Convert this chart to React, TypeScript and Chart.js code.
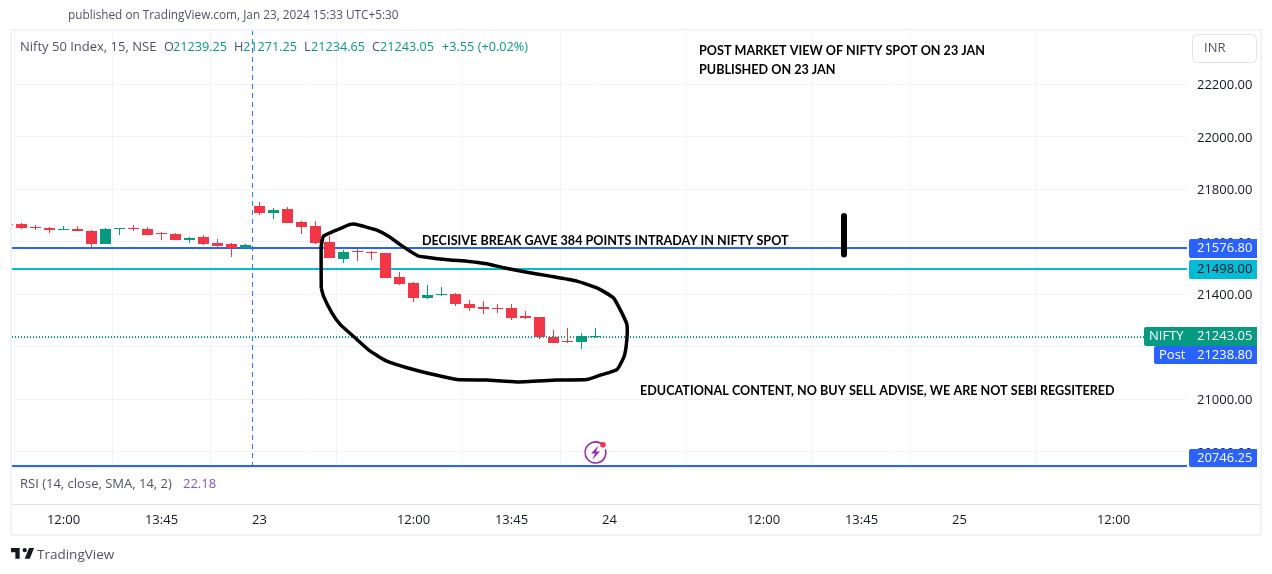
import React, { useEffect, useRef } from "react";
import { Chart, registerables } from "chart.js";

Chart.register(...registerables);

const opens = [21668.5, 21670, 21657, 21653, 21646, 21650, 21642, 21592, 21649, 21653, 21649, 21634, 21630, 21608, 21619, 21596, 21592, 21577, 21737, 21710, 21726, 21676, 21661, 21600, 21535, 21566, 21562, 21558, 21467, 21444, 21387, 21398, 21402, 21364, 21352, 21348, 21348, 21318, 21314, 21238, 21223, 21219, 21239.25];
const highs = [21669, 21674, 21666, 21657, 21661, 21661, 21646, 21653, 21653, 21665, 21657, 21638, 21634, 21619, 21627, 21611, 21596, 21592, 21752, 21729, 21733, 21680, 21680, 21623, 21569, 21573, 21566, 21558, 21486, 21448, 21436, 21428, 21406, 21379, 21375, 21364, 21364, 21337, 21314, 21265, 21272, 21253, 21271.25];
const lows = [21664, 21649, 21646, 21635, 21646, 21642, 21581, 21592, 21626, 21642, 21627, 21608, 21608, 21596, 21588, 21581, 21543, 21577, 21703, 21688, 21672, 21630, 21592, 21539, 21520, 21528, 21531, 21463, 21436, 21371, 21383, 21394, 21356, 21337, 21326, 21329, 21303, 21307, 21230, 21215, 21215, 21192, 21234.65];
const closes = [21665, 21653, 21653, 21646, 21650, 21642, 21592, 21650, 21653, 21649, 21627, 21630, 21608, 21615, 21592, 21585, 21577, 21589, 21710, 21722, 21672, 21657, 21596, 21539, 21562, 21562, 21558, 21463, 21440, 21387, 21398, 21402, 21364, 21349, 21345, 21345, 21310, 21310, 21238, 21215, 21219, 21242, 21243.05];

const priceTicks = [22200, 22000, 21800, 21600, 21400, 21200, 21000, 20800];
const timeTickBars = [4, 11, 18, 29, 36, 43, 54, 61, 68, 79];
const timeTickLabels = ["12:00", "13:45", "23", "12:00", "13:45", "24", "12:00", "13:45", "25", "12:00"];

const upperLevel = 21576.8;
const middleLevel = 21498;
const lowerLevel = 20746.25;
const lastPriceLine = 21238;
const crosshairBar = 17.5;

const loopBars = [22.41, 22.41, 22.57, 23.29, 23.88, 24.48, 24.84, 25.43, 26.38, 27.22, 28.05, 28.76, 29.36, 30.19, 31.62, 32.81, 34.24, 35.43, 37.1, 38.76, 40.67, 42.1, 43.29, 43.88, 44.24, 44.24, 44.05, 43.53, 42.34, 41.38, 39.24, 36.38, 34.24, 32.1, 30.43, 28.53, 27.1, 25.91, 24.95, 23.76, 23.17, 22.57, 22.41];
const loopPrices = [21425, 21584, 21622, 21641, 21654, 21667, 21668, 21660, 21645, 21622, 21590, 21565, 21546, 21540, 21531, 21527, 21517, 21502, 21485, 21470, 21451, 21425, 21387, 21330, 21286, 21229, 21165, 21114, 21093, 21076, 21074, 21067, 21074, 21076, 21095, 21121, 21146, 21184, 21229, 21286, 21330, 21394, 21425];
const strokeBars = [59.75, 59.75];
const strokePrices = [21699, 21552];

const UI = '"Open Sans", sans-serif';
const NOTE = "bold 12.6px Lato, sans-serif";
const GREY = "#50535e";
const GREEN = "#089981";
const RED = "#f23645";
const BLUE = "#2962ff";
const CYAN = "#00bcd4";
const FRAME = "#f0f3fa";

const PX_PER_BAR = 14;
const BAR0_X = 7.5;
const LEFT = 12;
const RIGHT = 1187;
const TOP = 31;
const BOTTOM = 467;
const xMin = (LEFT - BAR0_X) / PX_PER_BAR;
const xMax = (RIGHT - BAR0_X) / PX_PER_BAR;
const PX_PER_POINT = 0.2625;
const yMax = 22200 + (84.5 - TOP) / PX_PER_POINT;
const yMin = 22200 - (BOTTOM - 84.5) / PX_PER_POINT;

const candleColor = (i: number) => (closes[i] >= opens[i] ? GREEN : RED);

function label(ctx: any, text: string, x: number, y: number, font: string, color: string) {
  ctx.font = font;
  ctx.fillStyle = color;
  ctx.textAlign = "left";
  ctx.textBaseline = "middle";
  ctx.fillText(text, x, y);
}

function badge(ctx: any, x: number, y: number, w: number, h: number, color: string) {
  ctx.fillStyle = color;
  ctx.beginPath();
  ctx.roundRect(x, y, w, h, [2, 0, 0, 2]);
  ctx.fill();
}

// Pixel-snap candle edges and flat levels, as the source renderer does.
const snapPlugin = {
  id: "snap",
  beforeDatasetsDraw(chart: any) {
    chart.data.datasets.forEach((ds: any, i: number) => {
      const meta = chart.getDatasetMeta(i);
      if (ds.label === "Body" || ds.label === "Wick") {
        meta.data.forEach((el: any) => {
          const a = Math.round(el.y);
          let b = Math.round(el.base);
          if (a === b) b = a + 1;
          el.y = Math.min(a, b);
          el.base = Math.max(a, b);
        });
      } else if (ds.flat) {
        meta.data.forEach((el: any) => {
          el.y = Math.round(el.y);
        });
      }
    });
  },
};

const framePlugin = {
  id: "frame",
  beforeDraw(chart: any) {
    const ctx = chart.ctx;
    ctx.save();
    ctx.fillStyle = "#ffffff";
    ctx.fillRect(0, 0, 1272, 574);
    ctx.fillStyle = FRAME;
    ctx.fillRect(10, 29, 1252, 2);
    ctx.fillRect(10, 29, 2, 507);
    ctx.fillRect(1260, 29, 2, 507);
    ctx.fillRect(10, 534, 1252, 2);
    ctx.fillStyle = "#e0e3eb";
    ctx.fillRect(12, 504, 1248, 1);
    ctx.restore();
  },
};

const overlayPlugin = {
  id: "overlay",
  afterDraw(chart: any) {
    const ctx = chart.ctx;
    const y = chart.scales.y;
    ctx.save();

    label(ctx, "published on TradingView.com, Jan 23, 2024 15:33 UTC+5:30", 68, 16, `11.8px ${UI}`, GREY);

    label(ctx, "Nifty 50 Index, 15, NSE", 20, 47, `13px ${UI}`, GREY);
    const ohlc: [string, string, number, number][] = [
      ["O", "21239.25", 164, 173],
      ["H", "21271.25", 234, 243],
      ["L", "21234.65", 304, 311],
      ["C", "21243.05", 372, 380],
    ];
    ohlc.forEach(([k, v, kx, vx]) => {
      label(ctx, k, kx, 47, `12.7px ${UI}`, GREY);
      label(ctx, v, vx, 47, `12.7px ${UI}`, GREEN);
    });
    label(ctx, "+3.55 (+0.02%)", 442, 47, `12.7px ${UI}`, GREEN);

    label(ctx, "POST MARKET VIEW OF NIFTY SPOT ON 23 JAN", 699, 51, NOTE, "#000000");
    label(ctx, "PUBLISHED ON 23 JAN", 699, 70, NOTE, "#000000");
    label(ctx, "DECISIVE BREAK GAVE 384 POINTS INTRADAY IN NIFTY SPOT", 422, 241, NOTE, "#000000");
    label(ctx, "EDUCATIONAL CONTENT, NO BUY SELL ADVISE, WE ARE NOT SEBI REGSITERED", 640, 391, NOTE, "#000000");

    ctx.strokeStyle = "#e0e3eb";
    ctx.fillStyle = "#ffffff";
    ctx.lineWidth = 1;
    ctx.beginPath();
    ctx.roundRect(1192.5, 34.5, 64, 28, 5);
    ctx.fill();
    ctx.stroke();
    label(ctx, "INR", 1204, 48.5, `13px ${UI}`, GREY);

    const upperY = Math.round(y.getPixelForValue(upperLevel) - 9);
    badge(ctx, 1189, upperY, 68, 19, BLUE);
    label(ctx, upperLevel.toFixed(2), 1197, upperY + 9.5, `13px ${UI}`, "#ffffff");

    const middleY = Math.round(y.getPixelForValue(middleLevel) - 9);
    badge(ctx, 1189, middleY, 68, 19, CYAN);
    label(ctx, middleLevel.toFixed(2), 1197, middleY + 9.5, `13px ${UI}`, "#131722");

    badge(ctx, 1144, 327, 113, 19, GREEN);
    label(ctx, "NIFTY", 1149, 336.5, `13px ${UI}`, "#ffffff");
    label(ctx, "21243.05", 1197, 336.5, `13px ${UI}`, "#ffffff");

    badge(ctx, 1154, 346, 103, 18, BLUE);
    label(ctx, "Post", 1159, 355, `13px ${UI}`, "#ffffff");
    label(ctx, "21238.80", 1197, 355, `13px ${UI}`, "#ffffff");

    badge(ctx, 1189, 449, 68, 18, BLUE);
    label(ctx, lowerLevel.toFixed(2), 1197, 458, `13px ${UI}`, "#ffffff");

    ctx.fillStyle = FRAME;
    ctx.fillRect(12, 467, 1248, 1);

    label(ctx, "RSI (14, close, SMA, 14, 2)", 20, 484, `13px ${UI}`, GREY);
    label(ctx, "22.18", 183, 484, `13px ${UI}`, "#7e57c2");

    ctx.strokeStyle = "#9c27b0";
    ctx.lineWidth = 1.6;
    ctx.beginPath();
    ctx.arc(595.5, 452.5, 10.5, -0.1 * Math.PI, 1.75 * Math.PI);
    ctx.stroke();
    ctx.fillStyle = "#9c27b0";
    ctx.beginPath();
    ctx.moveTo(598.5, 445.5);
    ctx.lineTo(591, 453.5);
    ctx.lineTo(595, 453.5);
    ctx.lineTo(592.5, 459.5);
    ctx.lineTo(600, 451.5);
    ctx.lineTo(596, 451.5);
    ctx.closePath();
    ctx.fill();
    ctx.fillStyle = RED;
    ctx.beginPath();
    ctx.arc(603, 444.7, 2.8, 0, 2 * Math.PI);
    ctx.fill();

    ctx.save();
    ctx.translate(9.6, 543.7);
    ctx.scale(0.72, 0.72);
    ctx.fillStyle = "#131722";
    ctx.fill(new Path2D("M14 6H2v6h6v9h6V6zm14 15h-7l6-15h7l-6 15zm-7-9a3 3 0 1 0 0-6 3 3 0 0 0 0 6z"));
    ctx.restore();
    label(ctx, "TradingView", 37, 555, `13.5px ${UI}`, GREY);

    ctx.restore();
  },
};

export default function App() {
  const canvasRef = useRef<HTMLCanvasElement | null>(null);

  useEffect(() => {
    document.body.style.margin = "0";
    document.body.style.overflow = "hidden";
    const canvas = canvasRef.current;
    if (!canvas) return;

    const flat = (level: number) => [
      { x: xMin, y: level },
      { x: xMax, y: level },
    ];

    const chart = new Chart(canvas, {
      type: "bar",
      data: {
        datasets: [
          {
            type: "line",
            label: "Loop",
            data: loopBars.map((x, i) => ({ x, y: loopPrices[i] })),
            borderColor: "#000000",
            borderWidth: 3.5,
            tension: 0.15,
            pointRadius: 0,
            order: 0,
          },
          {
            type: "line",
            label: "Stroke",
            data: strokeBars.map((x, i) => ({ x, y: strokePrices[i] })),
            borderColor: "#000000",
            borderWidth: 6,
            borderCapStyle: "round",
            pointRadius: 0,
            order: 0,
          },
          {
            label: "Body",
            data: opens.map((o, i) => ({ x: i, y: [o, closes[i]] })),
            backgroundColor: opens.map((_, i) => candleColor(i)),
            barThickness: 11,
            grouped: false,
            borderWidth: 0,
            inflateAmount: 0,
            order: 2,
          },
          {
            label: "Wick",
            data: lows.map((l, i) => ({ x: i, y: [l, highs[i]] })),
            backgroundColor: lows.map((_, i) => candleColor(i)),
            barThickness: 1,
            grouped: false,
            borderWidth: 0,
            inflateAmount: 0,
            order: 3,
          },
          {
            type: "line",
            label: "Last",
            flat: true,
            data: flat(lastPriceLine),
            borderColor: GREEN,
            borderWidth: 2,
            borderDash: [1, 2],
            pointRadius: 0,
            order: 1,
          },
          {
            type: "line",
            label: "Upper",
            flat: true,
            data: flat(upperLevel),
            borderColor: BLUE,
            borderWidth: 2,
            pointRadius: 0,
            order: 5,
          },
          {
            type: "line",
            label: "Middle",
            flat: true,
            data: flat(middleLevel),
            borderColor: CYAN,
            borderWidth: 2,
            pointRadius: 0,
            order: 5,
          },
          {
            type: "line",
            label: "Lower",
            flat: true,
            data: flat(lowerLevel),
            borderColor: BLUE,
            borderWidth: 2,
            pointRadius: 0,
            order: 5,
          },
          {
            type: "line",
            label: "Crosshair",
            data: [
              { x: crosshairBar, y: yMin },
              { x: crosshairBar, y: yMax },
            ],
            borderColor: "#2979ff",
            borderWidth: 1,
            borderDash: [5, 4],
            pointRadius: 0,
            order: 6,
          },
        ],
      } as any,
      options: {
        responsive: false,
        animation: false,
        devicePixelRatio: 1,
        layout: { padding: { left: LEFT, top: TOP, right: 0, bottom: 0 } },
        plugins: { legend: { display: false }, tooltip: { enabled: false } },
        events: [],
        scales: {
          x: {
            type: "linear",
            position: "bottom",
            min: xMin,
            max: xMax,
            offset: false,
            afterBuildTicks: (s: any) => {
              s.ticks = timeTickBars.map((value) => ({ value }));
            },
            afterFit: (s: any) => {
              s.height = 574 - BOTTOM;
            },
            grid: { color: FRAME, drawTicks: false },
            border: { display: false },
            ticks: {
              autoSkip: false,
              maxRotation: 0,
              padding: 45,
              color: "#131722",
              font: { family: UI, size: 13 },
              callback: (value: any) => timeTickLabels[timeTickBars.indexOf(Number(value))] ?? "",
            },
          },
          y: {
            type: "linear",
            position: "right",
            min: yMin,
            max: yMax,
            afterBuildTicks: (s: any) => {
              s.ticks = priceTicks.map((value) => ({ value }));
            },
            afterFit: (s: any) => {
              s.width = 1272 - RIGHT;
              if (!s.__nudged) {
                s.__nudged = true;
                const drawLabels = s.drawLabels.bind(s);
                s.drawLabels = (area: any) => {
                  s.ctx.save();
                  s.ctx.translate(0, 1);
                  drawLabels(area);
                  s.ctx.restore();
                };
              }
            },
            grid: { color: FRAME, drawTicks: false },
            border: { display: false },
            ticks: {
              padding: 10,
              color: "#131722",
              font: { family: UI, size: 13 },
              callback: (value: any) => Number(value).toFixed(2),
            },
          },
        },
      } as any,
      plugins: [framePlugin, snapPlugin, overlayPlugin],
    });

    return () => chart.destroy();
  }, []);

  return (
    <div style={{ width: 1272, height: 574, position: "relative", overflow: "hidden", background: "#ffffff" }}>
      <canvas ref={canvasRef} width={1272} height={574} style={{ display: "block", width: 1272, height: 574 }} />
    </div>
  );
}
